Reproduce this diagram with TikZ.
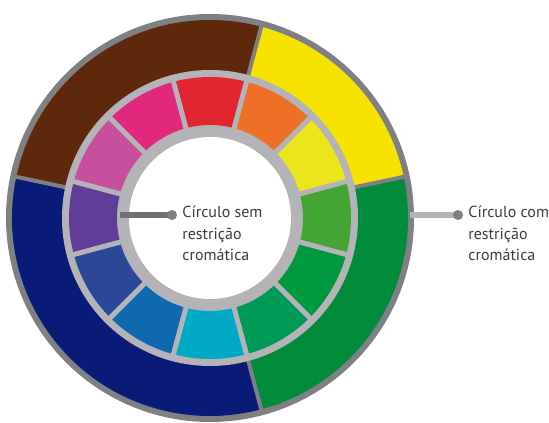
\documentclass[tikz,border=0pt]{standalone}
\usepackage{fontspec}
\setmainfont{PT Sans}
\usetikzlibrary{positioning}

\definecolor{ringDark}{HTML}{7F8083}
\definecolor{ringLight}{HTML}{B4B4B8}
\definecolor{leadDark}{HTML}{6F7073}
\definecolor{txtGray}{HTML}{3C3C3E}
\definecolor{oBrown}{HTML}{5E280C}
\definecolor{oYellow}{HTML}{F7E300}
\definecolor{oGreen}{HTML}{008C3A}
\definecolor{oNavy}{HTML}{0A1B77}
\definecolor{wRed}{HTML}{E2262F}
\definecolor{wOrange}{HTML}{EE7026}
\definecolor{wYellow}{HTML}{EBE51B}
\definecolor{wGreenA}{HTML}{45A534}
\definecolor{wGreenB}{HTML}{00993F}
\definecolor{wGreenC}{HTML}{009A57}
\definecolor{wCyan}{HTML}{00A9C6}
\definecolor{wBlue}{HTML}{0E69AF}
\definecolor{wBlueB}{HTML}{2C4698}
\definecolor{wPurple}{HTML}{603D97}
\definecolor{wOrchid}{HTML}{C6509E}
\definecolor{wMagenta}{HTML}{E2287C}

\begin{document}
\begin{tikzpicture}[x=1pt, y=1pt,
node distance = 2pt and 5pt,
  dot/.style = {circle, fill=ringDark, inner sep=0pt, minimum size=10pt},
  lbl/.style = {align=left, inner sep=0pt, text=txtGray,
                font=\fontsize{16}{21.5}\selectfont},
  lead/.style = {line width=6pt},
  gap/.style = {draw=ringLight, line width=5pt}
                    ]
\useasboundingbox (-210,-205) rectangle (339,218);
% outer ring
\fill[ringDark] (0,0) circle[radius=204pt];
\fill[oBrown]  (0,0) -- (75:198pt)  arc[start angle=75,  end angle=168, radius=198pt] -- cycle;
\fill[oNavy]   (0,0) -- (168:198pt) arc[start angle=168, end angle=285, radius=198pt] -- cycle;
\fill[oGreen]  (0,0) -- (285:198pt) arc[start angle=285, end angle=372, radius=198pt] -- cycle;
\fill[oYellow] (0,0) -- (12:198pt)  arc[start angle=12,  end angle=75,  radius=198pt] -- cycle;
\foreach \a in {12,75,168,285}
  \draw[ringDark, line width=4pt] (\a:140pt) -- (\a:200pt);
% inner wheel
\fill[ringLight] (0,0) circle[radius=148pt];
\foreach \col [count=\i] in {wRed,wOrange,wYellow,wGreenA,wGreenB,wGreenC,
                             wCyan,wBlue,wBlueB,wPurple,wOrchid,wMagenta}
  \fill[\col] ({105-30*\i}:93pt) arc[start angle={105-30*\i}, delta angle=30, radius=93pt]
              -- ({135-30*\i}:141pt) arc[start angle={135-30*\i}, delta angle=-30, radius=141pt]
              -- cycle;
\foreach \a in {15,45,...,345}
  \draw[gap] (\a:88pt) -- (\a:144pt);
\fill[white] (0,0) circle[radius=81pt];
%
\coordinate (inA) at (-90,3);
\coordinate (inB) at (200,3);
\coordinate (cA) at (-38,3);
\coordinate (cB) at (248,3);
\draw[lead, leadDark]  (inA) -- (cA);
\draw[lead, ringLight] (inB) -- (cB);
\node (dotA) [dot] at (cA) {};
\node (dotB) [dot] at (cB) {};
\node (lblA) [lbl, right=of dotA, anchor=north west, yshift=9pt]
      {Círculo sem\\restrição\\cromática};
\node (lblB) [lbl, right=of dotB, anchor=north west, yshift=9pt]
      {Círculo com\\restrição\\cromática};
\end{tikzpicture}
\end{document}
